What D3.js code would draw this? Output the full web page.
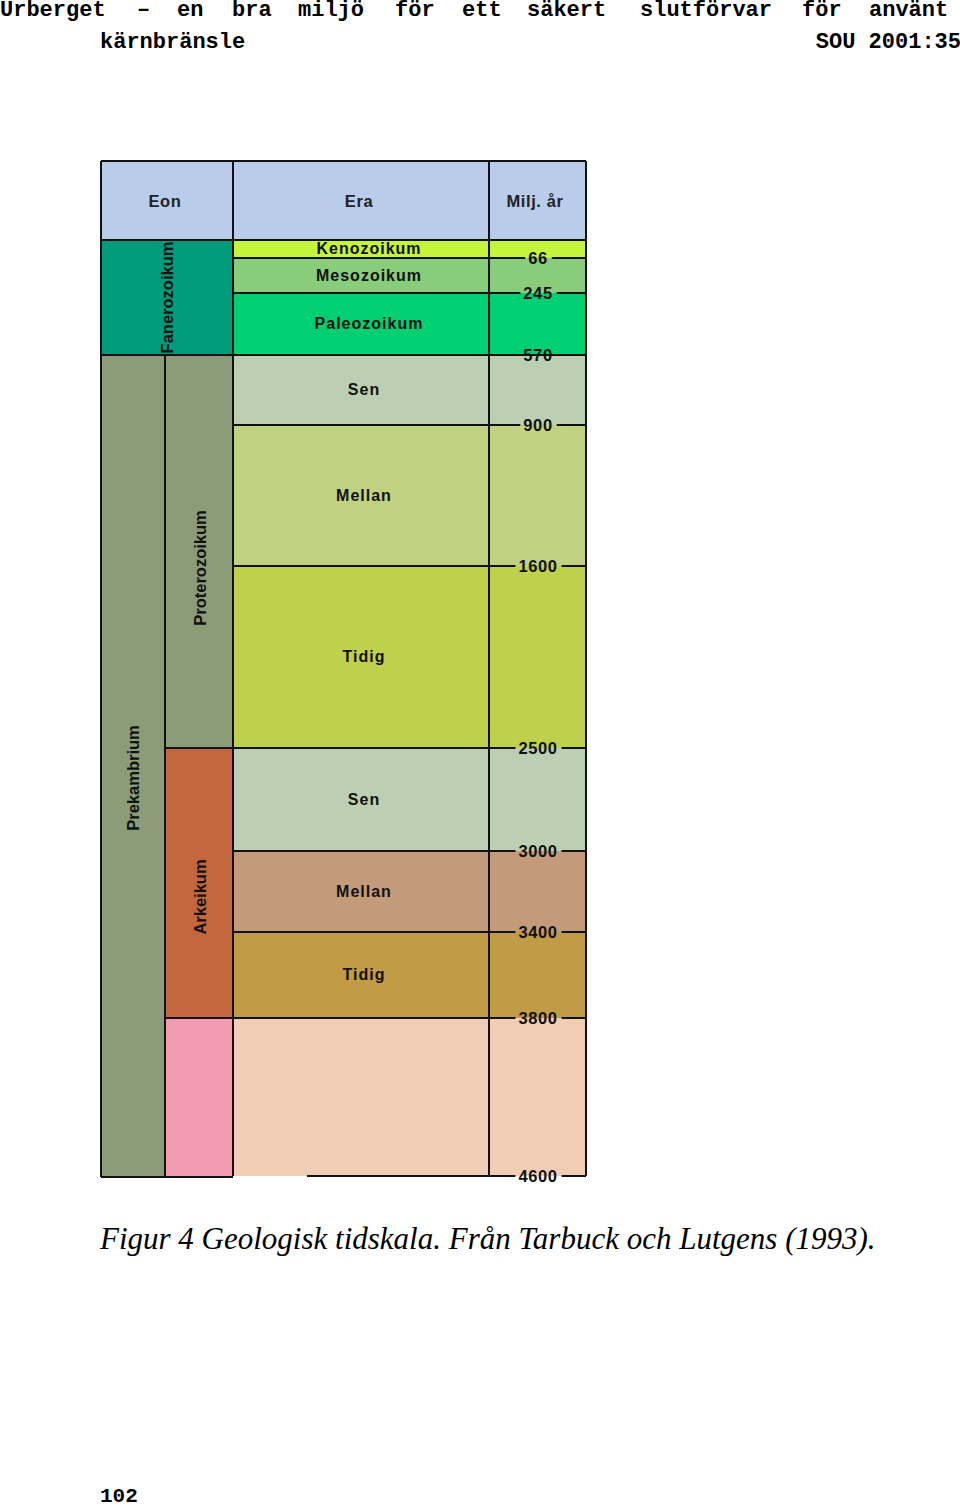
<!DOCTYPE html>
<html><head><meta charset="utf-8">
<script src="https://cdn.jsdelivr.net/npm/d3@7"></script>
<style>body{margin:0;background:#fff}</style></head>
<body><svg id="c" width="960" height="1508"></svg>
<script>
// Data
const boundaries = [0, 66, 245, 570, 900, 1600, 2500, 3000, 3400, 3800, 4600];
const boundaryPx = [240, 258, 293, 355, 425, 566, 748, 851, 932, 1018, 1176]; // piecewise (non-linear) chart scale
const eras = [
  {name:"Kenozoikum", from:0, to:66, color:"#c4f53c"},
  {name:"Mesozoikum", from:66, to:245, color:"#88cc7c"},
  {name:"Paleozoikum", from:245, to:570, color:"#00cf72"},
  {name:"Sen", from:570, to:900, color:"#bccfb2"},
  {name:"Mellan", from:900, to:1600, color:"#c0d182"},
  {name:"Tidig", from:1600, to:2500, color:"#bfd14c"},
  {name:"Sen", from:2500, to:3000, color:"#bccfb2"},
  {name:"Mellan", from:3000, to:3400, color:"#c49b7a"},
  {name:"Tidig", from:3400, to:3800, color:"#c29b46"},
  {name:"", from:3800, to:4600, color:"#f0cdb4"}
];
const eonsOuter = [
  {name:"Fanerozoikum", from:0, to:570, color:"#009b78", span:2},
  {name:"Prekambrium", from:570, to:4600, color:"#8c9b78", span:1}
];
const eonsInner = [
  {name:"Proterozoikum", from:570, to:2500, color:"#8c9b78"},
  {name:"Arkeikum", from:2500, to:3800, color:"#c4673f"},
  {name:"", from:3800, to:4600, color:"#f39bb1"}
];
const tickLabels = boundaries.slice(1);
const headers = ["Eon","Era","Milj. år"];

const svg = d3.select("#c");
const y = d3.scaleLinear().domain(boundaries).range(boundaryPx);
const X0=101, X1=165, X2=233, X3=489, X4=586, HT=161;
const F = "Liberation Sans, Arial, sans-serif";

// header
svg.append("rect").attr("x",X0).attr("y",HT).attr("width",X4-X0).attr("height",y(0)-HT).attr("fill","#b9cce9");
const hx=[165,359,535];
headers.forEach((h,i)=>svg.append("text").attr("x",hx[i]).attr("y",207)
  .attr("text-anchor","middle").attr("font-family",F).attr("font-weight","bold").attr("font-size",16.5).attr("letter-spacing",0.6).attr("fill","#222").text(h));

// eras + ma column
eras.forEach(d=>{
  svg.append("rect").attr("x",X2).attr("y",y(d.from)).attr("width",X4-X2).attr("height",y(d.to)-y(d.from)).attr("fill",d.color);
  if(d.name) svg.append("text").attr("x",(X2+X3)/2+(d.name.length<7?3:8)).attr("y",(y(d.from)+y(d.to))/2+5)
    .attr("text-anchor","middle").attr("font-family",F).attr("font-weight","bold").attr("font-size",16).attr("letter-spacing",1).attr("fill","#111").text(d.name);
});
// eons
eonsOuter.forEach(d=>{
  const w = d.span===2 ? X2-X0 : X1-X0;
  svg.append("rect").attr("x",X0).attr("y",y(d.from)).attr("width",w).attr("height",y(d.to)-y(d.from)).attr("fill",d.color);
});
eonsInner.forEach(d=>{
  svg.append("rect").attr("x",X1).attr("y",y(d.from)).attr("width",X2-X1).attr("height",y(d.to)-y(d.from)).attr("fill",d.color);
});
function vlabel(t,cx,cy){
  svg.append("text").attr("transform",`translate(${cx},${cy}) rotate(-90)`).attr("text-anchor","middle")
    .attr("font-family",F).attr("font-weight","bold").attr("font-size",16.5).attr("fill","#111").text(t);
}
vlabel("Fanerozoikum",173,(y(0)+y(570))/2);
vlabel("Prekambrium",139,778);
vlabel("Proterozoikum",206,568);
vlabel("Arkeikum",206,897);

const line=(x1,y1,x2,y2,w)=>svg.append("line").attr("x1",x1).attr("y1",y1).attr("x2",x2).attr("y2",y2).attr("stroke","#111").attr("stroke-width",w||2);
// verticals
line(X0,HT,X0,y(4600)+1);
line(X1,y(570),X1,y(4600)+1);
line(X2,HT,X2,y(4600));
line(X3,HT,X3,y(4600));
line(X4,HT,X4,y(4600));
line(X0,HT,X4,HT);
line(X0,y(0),X4,y(0));
line(X0,y(570),X4,y(570));
line(X1,y(2500),X2,y(2500));
line(X1,y(3800),X2,y(3800));
line(X0,y(4600)+1,X2,y(4600)+1);
// ticks with labels
tickLabels.forEach(v=>{
  const cx=538;
  const t = svg.append("text").attr("x",cx).attr("y",y(v)+6).attr("text-anchor","middle")
    .attr("font-family",F).attr("font-weight","bold").attr("font-size",16.5).attr("letter-spacing",0.6).attr("fill","#111").text(v);
  const w = t.node().getComputedTextLength();
  const left = v===4600 ? 307 : X2;
  line(left, y(v), cx-w/2-3, y(v));
  line(cx+w/2+4, y(v), X4, y(v));
});

// page texts
const M="Liberation Mono, Courier New, monospace";
const topWords="Urberget – en bra miljö för ett säkert slutförvar för använt".split(" ");
const tw = svg.append("text").attr("y",16).attr("font-family",M).attr("font-weight","bold").attr("font-size",22).attr("fill","#000");
const wx=[0,137,177,232,298,395,462,527,640,802,869];
topWords.forEach((w,i)=>tw.append("tspan").attr("x",wx[i]).text(w));
svg.append("text").attr("x",100).attr("y",48).attr("font-family",M).attr("font-weight","bold").attr("font-size",22).text("kärnbränsle");
svg.append("text").attr("x",961).attr("y",48).attr("text-anchor","end").attr("font-family",M).attr("font-weight","bold").attr("font-size",22).text("SOU 2001:35");
svg.append("text").attr("x",100).attr("y",1249).attr("font-family","Liberation Serif, Times New Roman, serif").attr("font-style","italic").attr("font-size",31).text("Figur 4 Geologisk tidskala. Från Tarbuck och Lutgens (1993).");
svg.append("text").attr("x",100).attr("y",1502).attr("font-family",M).attr("font-weight","bold").attr("font-size",21).text("102");
</script></body></html>
